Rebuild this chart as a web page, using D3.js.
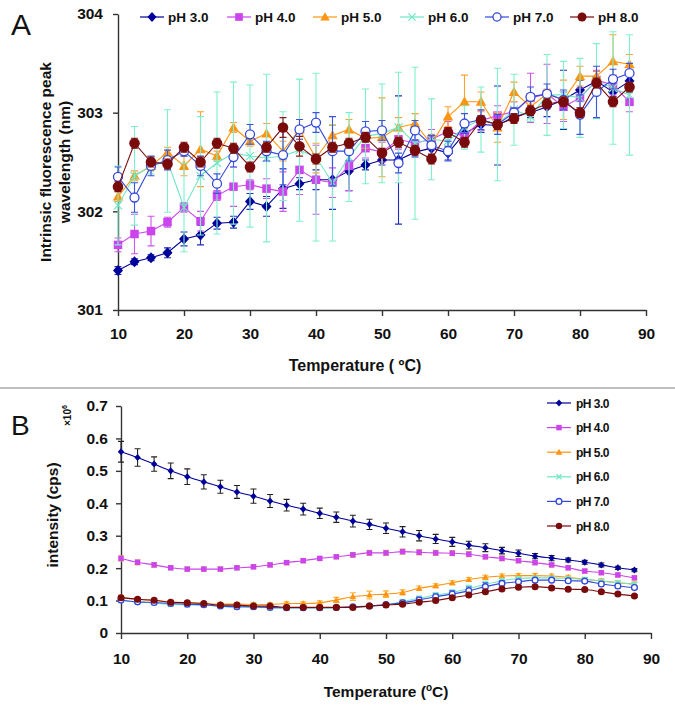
<!DOCTYPE html>
<html><head><meta charset="utf-8">
<script src="https://cdn.jsdelivr.net/npm/d3@7"></script>
<style>body{margin:0;background:#fff} svg{display:block} text{font-family:"Liberation Sans",Arial,Helvetica,sans-serif}</style>
</head><body><svg id="c" width="675" height="713"></svg>
<script>
// ---------- data ----------
const temps = [10,12.5,15,17.5,20,22.5,25,27.5,30,32.5,35,37.5,40,42.5,45,47.5,50,52.5,55,57.5,60,62.5,65,67.5,70,72.5,75,77.5,80,82.5,85,87.5];
const seriesNames = ["pH 3.0","pH 4.0","pH 5.0","pH 6.0","pH 7.0","pH 8.0"];
const xTicks = [10,20,30,40,50,60,70,80,90];
const peakTicks = [301,302,303,304];
const intTicks = [0,0.1,0.2,0.3,0.4,0.5,0.6,0.7];

// Panel A: intrinsic fluorescence peak wavelength (nm)
const peak3 = [301.40,301.49,301.53,301.58,301.72,301.76,301.88,301.89,302.10,302.05,302.23,302.28,302.32,302.32,302.41,302.47,302.52,302.52,302.60,302.64,302.59,302.79,302.88,302.87,302.96,303.00,303.06,303.13,303.23,303.32,303.21,303.32];
const peak4 = [301.66,301.77,301.80,301.89,302.04,301.90,302.16,302.25,302.27,302.23,302.20,302.42,302.32,302.29,302.46,302.64,302.60,302.73,302.69,302.73,302.81,302.76,302.92,302.97,303.01,303.15,303.19,303.06,303.15,303.33,303.28,303.11];
const peak5 = [302.15,302.36,302.46,302.60,302.46,302.63,302.56,302.85,302.71,302.79,302.61,302.83,302.54,302.77,302.83,302.74,302.75,302.85,302.89,302.68,302.96,303.11,303.11,302.85,303.21,303.06,303.19,303.13,303.37,303.37,303.52,303.49];
const peak6 = [302.06,302.36,302.46,302.51,302.04,302.36,302.49,302.59,302.56,302.54,302.56,302.62,302.55,302.29,302.55,302.76,302.79,302.85,302.69,302.73,302.71,302.85,302.93,302.88,303.03,302.96,303.18,303.18,303.15,303.32,303.25,303.18];
const peak7 = [302.35,302.14,302.46,302.52,302.61,302.46,302.28,302.55,302.78,302.61,302.57,302.83,302.90,302.61,302.61,302.81,302.82,302.49,302.82,302.67,302.61,302.89,302.93,302.88,303.00,303.16,303.19,303.13,302.98,303.21,303.34,303.40];
const peak8 = [302.25,302.69,302.50,302.48,302.65,302.50,302.69,302.64,302.45,302.65,302.85,302.66,302.53,302.65,302.69,302.75,302.59,302.70,302.62,302.53,302.80,302.70,302.92,302.88,302.94,303.02,303.09,303.11,303.00,303.30,303.11,303.26];
const peakErr3 = [0.04,0.03,0.03,0.05,0.07,0.1,0.06,0.06,0.08,0.1,0.2,0.06,0.1,0.3,0.2,0.05,0.05,0.65,0.05,0.07,0.07,0.06,0.08,0.4,0.05,0.05,0.1,0.3,0.1,0.1,0.05,0.08];
const peakErr4 = [0.07,0.2,0.15,0.05,0.05,0.1,0.05,0.2,0.05,0.1,0.2,0.25,0.35,0.15,0.25,0.1,0.1,0.1,0.1,0.1,0.1,0.1,0.1,0.1,0.1,0.25,0.3,0.15,0.1,0.1,0.1,0.1];
const peakErr5 = [0.05,0.05,0.05,0.05,0.1,0.38,0.05,0.05,0.05,0.1,0.1,0.1,0.15,0.1,0.1,0.1,0.4,0.1,0.1,0.1,0.1,0.27,0.1,0.15,0.1,0.05,0.05,0.2,0.1,0.05,0.27,0.1];
const peakErr6 = [0.4,0.5,0.08,0.52,0.45,0.6,0.72,0.72,0.72,0.85,0.45,0.72,0.85,0.59,0.45,0.48,0.5,0.56,0.77,0.41,0.1,0.22,0.33,0.57,0.36,0.05,0.41,0.34,0.4,0.38,0.57,0.61];
const peakErr7 = [0.1,0.15,0.1,0.1,0.05,0.1,0.1,0.1,0.1,0.1,0.3,0.1,0.1,0.35,0.1,0.1,0.1,0.1,0.1,0.1,0.1,0.1,0.1,0.1,0.05,0.1,0.1,0.1,0.2,0.26,0.1,0.1];
const peakErr8 = [0.05,0.05,0.05,0.05,0.05,0.05,0.05,0.05,0.05,0.05,0.1,0.1,0.05,0.05,0.05,0.05,0.05,0.05,0.05,0.05,0.05,0.05,0.05,0.05,0.05,0.05,0.05,0.05,0.05,0.05,0.05,0.05];

// Panel B: intensity (x10^6 cps)
const int3 = [0.559,0.541,0.521,0.500,0.482,0.466,0.451,0.435,0.422,0.407,0.394,0.382,0.369,0.357,0.345,0.335,0.323,0.312,0.300,0.290,0.281,0.271,0.263,0.254,0.246,0.237,0.231,0.225,0.218,0.210,0.201,0.194];
const int4 = [0.230,0.218,0.210,0.201,0.197,0.197,0.197,0.201,0.204,0.210,0.217,0.223,0.230,0.235,0.241,0.247,0.247,0.251,0.249,0.247,0.246,0.243,0.235,0.230,0.223,0.217,0.210,0.201,0.191,0.186,0.179,0.170];
const int5 = [0.110,0.104,0.100,0.096,0.094,0.091,0.089,0.089,0.088,0.088,0.091,0.091,0.093,0.102,0.112,0.117,0.120,0.125,0.138,0.146,0.155,0.165,0.172,0.176,0.177,0.177,0.176,0.172,0.165,0.161,0.155,0.151];
const int6 = [0.100,0.095,0.093,0.088,0.087,0.086,0.082,0.080,0.079,0.078,0.077,0.077,0.077,0.078,0.080,0.082,0.087,0.097,0.107,0.117,0.125,0.137,0.150,0.161,0.168,0.170,0.170,0.168,0.166,0.160,0.155,0.150];
const int7 = [0.102,0.096,0.094,0.091,0.089,0.087,0.083,0.081,0.081,0.079,0.078,0.078,0.078,0.079,0.081,0.083,0.088,0.093,0.102,0.112,0.120,0.130,0.143,0.153,0.158,0.163,0.163,0.161,0.160,0.151,0.145,0.140];
const int8 = [0.109,0.104,0.101,0.095,0.093,0.091,0.086,0.086,0.083,0.083,0.079,0.079,0.079,0.079,0.079,0.083,0.086,0.089,0.095,0.100,0.109,0.117,0.127,0.136,0.141,0.143,0.139,0.135,0.134,0.127,0.120,0.114];
const intErr3 = [0.032,0.027,0.022,0.024,0.024,0.022,0.02,0.02,0.022,0.02,0.018,0.018,0.016,0.016,0.018,0.016,0.016,0.016,0.016,0.014,0.014,0.012,0.012,0.01,0.01,0.008,0.008,0.006,0.006,0.006,0.005,0.005];
const intErr4 = [0.008,0.008,0.007,0.006,0.006,0.006,0.006,0.006,0.006,0.006,0.006,0.006,0.006,0.006,0.007,0.008,0.008,0.008,0.008,0.008,0.008,0.008,0.007,0.007,0.006,0.006,0.006,0.006,0.006,0.006,0.006,0.006];
const intErr5 = [0.006,0.005,0.005,0.005,0.005,0.005,0.005,0.005,0.005,0.005,0.005,0.005,0.006,0.008,0.012,0.012,0.01,0.008,0.007,0.006,0.006,0.006,0.006,0.006,0.006,0.006,0.006,0.006,0.006,0.006,0.006,0.006];
const intErr6 = [0.004,0.004,0.004,0.004,0.004,0.004,0.004,0.004,0.004,0.004,0.004,0.004,0.004,0.004,0.004,0.005,0.006,0.006,0.007,0.008,0.008,0.01,0.01,0.008,0.006,0.005,0.005,0.005,0.005,0.005,0.005,0.005];
const intErr7 = [0.004,0.004,0.004,0.004,0.004,0.004,0.004,0.004,0.004,0.004,0.004,0.004,0.004,0.004,0.004,0.005,0.006,0.006,0.008,0.008,0.01,0.012,0.012,0.008,0.006,0.005,0.005,0.005,0.005,0.005,0.005,0.005];
const intErr8 = [0.004,0.004,0.004,0.004,0.004,0.004,0.004,0.004,0.004,0.004,0.004,0.004,0.004,0.004,0.004,0.004,0.004,0.004,0.004,0.004,0.004,0.004,0.004,0.004,0.004,0.004,0.004,0.004,0.004,0.004,0.004,0.004];

// ---------- styles ----------
const colors = ["#00009a","#cc44ee","#ff9410","#6fe6c4","#3348dc","#7a0b0b"];
const errColors = ["#1d2dc0","#cc55ee","#ffa030","#7ff0cc","#3e55e0","#8a1a1a"];
const intErrColors = ["#222222","#e0c040","#ffb030","#7ff0cc","#3e55e0","#8a1a1a"];
const markerTypes = ["diamond","square","triangle","x","circleOpen","circle"];
const peakSeries = [peak3,peak4,peak5,peak6,peak7,peak8];
const peakErrs = [peakErr3,peakErr4,peakErr5,peakErr6,peakErr7,peakErr8];
const intSeries = [int3,int4,int5,int6,int7,int8];
const intErrs = [intErr3,intErr4,intErr5,intErr6,intErr7,intErr8];

const svg = d3.select("#c");
const FONT = '"Liberation Sans",Arial,Helvetica,sans-serif';

function marker(g, type, x, y, s, color) {
  if (type === "diamond") {
    g.append("path").attr("d", `M${x},${y-s*1.1}L${x+s},${y}L${x},${y+s*1.1}L${x-s},${y}Z`).attr("fill", color);
  } else if (type === "square") {
    g.append("rect").attr("x", x-s*0.85).attr("y", y-s*0.85).attr("width", s*1.7).attr("height", s*1.7).attr("fill", color);
  } else if (type === "triangle") {
    g.append("path").attr("d", `M${x},${y-s*1.05}L${x+s*1.05},${y+s*0.8}L${x-s*1.05},${y+s*0.8}Z`).attr("fill", color);
  } else if (type === "x") {
    const h = s*0.8;
    g.append("path").attr("d", `M${x-h},${y-h}L${x+h},${y+h}M${x-h},${y+h}L${x+h},${y-h}`).attr("stroke", color).attr("stroke-width", 1.2).attr("fill","none");
  } else if (type === "circleOpen") {
    g.append("circle").attr("cx", x).attr("cy", y).attr("r", s*0.9).attr("fill", "#fff").attr("stroke", color).attr("stroke-width", 1.3);
  } else {
    g.append("circle").attr("cx", x).attr("cy", y).attr("r", s).attr("fill", color);
  }
}

function styleAxis(g, fs) {
  g.selectAll("path.domain").attr("stroke", "#333").attr("stroke-width", 1.4);
  g.selectAll(".tick line").attr("stroke", "#333").attr("stroke-width", 1.4);
  g.selectAll(".tick text").attr("font-family", FONT).attr("font-weight", "bold").attr("font-size", fs).attr("fill", "#111");
}

// ---------- Panel A ----------
const xA = d3.scaleLinear().domain([10, 90]).range([118, 646]);
const yA = d3.scaleLinear().domain([301, 304]).range([310, 14]);

const gA = svg.append("g");
const axAx = gA.append("g").attr("transform", "translate(0,310)")
  .call(d3.axisBottom(xA).tickValues(xTicks).tickSize(6).tickSizeOuter(0).tickPadding(12).tickFormat(d3.format("d")));
styleAxis(axAx, 15.5);
const axAy = gA.append("g").attr("transform", "translate(118,0)")
  .call(d3.axisLeft(yA).tickValues(peakTicks).tickSize(5).tickSizeOuter(0).tickPadding(10).tickFormat(d3.format("d")));
styleAxis(axAy, 15.5);

const lineA = d3.line().x((d, i) => xA(temps[i])).y(d => yA(d));
seriesNames.forEach((name, k) => {
  const g = gA.append("g");
  const vals = peakSeries[k], errs = peakErrs[k];
  vals.forEach((v, i) => {
    const x = xA(temps[i]), y1 = yA(v + errs[i]), y2 = yA(v - errs[i]);
    g.append("path").attr("d", `M${x},${y1}L${x},${y2}M${x-3.5},${y1}L${x+3.5},${y1}M${x-3.5},${y2}L${x+3.5},${y2}`)
      .attr("stroke", errColors[k]).attr("stroke-width", 1.1).attr("fill", "none");
  });
  g.append("path").datum(vals).attr("d", lineA).attr("fill", "none").attr("stroke", colors[k]).attr("stroke-width", 1.1);
  vals.forEach((v, i) => marker(g, markerTypes[k], xA(temps[i]), yA(v), markerTypes[k]==="x" ? 5 : (markerTypes[k]==="circle" ? 5.3 : 5), colors[k]));
});

// Legend A
const legA = [140, 227, 313, 400, 485, 570];
seriesNames.forEach((name, k) => {
  const g = svg.append("g");
  const x0 = legA[k], y0 = 17;
  g.append("line").attr("x1", x0).attr("x2", x0+24).attr("y1", y0).attr("y2", y0).attr("stroke", colors[k]).attr("stroke-width", 1.2);
  marker(g, markerTypes[k], x0+12, y0, 4.5, colors[k]);
  g.append("text").attr("x", x0+28).attr("y", y0+5).attr("font-family", FONT).attr("font-weight", "bold").attr("font-size", 13.5).attr("fill", "#111").text(name);
});

// Titles A
svg.append("text").attr("x", 11).attr("y", 35).attr("font-family", FONT).attr("font-size", 30).attr("fill", "#111").text("A");
const ytA = svg.append("text").attr("transform", "translate(54,162) rotate(-90)").attr("text-anchor", "middle")
  .attr("font-family", FONT).attr("font-weight", "bold").attr("font-size", 15.5).attr("fill", "#111");
ytA.append("tspan").attr("x", 0).attr("dy", -3).text("Intrinsic fluorescence peak");
ytA.append("tspan").attr("x", 0).attr("dy", 19).text("wavelength (nm)");
svg.append("text").attr("x", 355).attr("y", 371).attr("text-anchor", "middle").attr("font-family", FONT).attr("font-weight", "bold").attr("font-size", 16).attr("fill", "#111").text("Temperature ( ºC)");

// divider
svg.append("line").attr("x1", 0).attr("x2", 675).attr("y1", 388).attr("y2", 388).attr("stroke", "#a8a8a8").attr("stroke-width", 1.6);

// ---------- Panel B ----------
const xB = d3.scaleLinear().domain([10, 90]).range([121, 651]);
const yB = d3.scaleLinear().domain([0, 0.7]).range([633, 406]);
const gB = svg.append("g");
const axBx = gB.append("g").attr("transform", "translate(0,633)")
  .call(d3.axisBottom(xB).tickValues(xTicks).tickSize(6).tickSizeOuter(0).tickPadding(14).tickFormat(d3.format("d")));
styleAxis(axBx, 15.5);
const axBy = gB.append("g").attr("transform", "translate(121,0)")
  .call(d3.axisLeft(yB).tickValues(intTicks).tickSize(5).tickSizeOuter(0).tickPadding(8).tickFormat(d => d === 0 ? "0" : d3.format(".1f")(d)));
styleAxis(axBy, 15.5);

const lineB = d3.line().x((d, i) => xB(temps[i])).y(d => yB(d)).curve(d3.curveMonotoneX);
seriesNames.forEach((name, k) => {
  const g = gB.append("g");
  const vals = intSeries[k], errs = intErrs[k];
  vals.forEach((v, i) => {
    const x = xB(temps[i]), y1 = yB(v + errs[i]), y2 = yB(v - errs[i]);
    g.append("path").attr("d", `M${x},${y1}L${x},${y2}M${x-3},${y1}L${x+3},${y1}M${x-3},${y2}L${x+3},${y2}`)
      .attr("stroke", intErrColors[k]).attr("stroke-width", 1.1).attr("fill", "none");
  });
  g.append("path").datum(vals).attr("d", lineB).attr("fill", "none").attr("stroke", colors[k]).attr("stroke-width", 1.1);
  vals.forEach((v, i) => marker(g, markerTypes[k], xB(temps[i]), yB(v), markerTypes[k]==="circle" ? 3.5 : 3.2, colors[k]));
});

// Legend B
seriesNames.forEach((name, k) => {
  const g = svg.append("g");
  const y0 = 403 + k*24.6;
  g.append("line").attr("x1", 547).attr("x2", 571).attr("y1", y0).attr("y2", y0).attr("stroke", colors[k]).attr("stroke-width", 1.2);
  marker(g, markerTypes[k], 559, y0, 3.2, colors[k]);
  g.append("text").attr("x", 576).attr("y", y0+4.5).attr("font-family", FONT).attr("font-weight", "bold").attr("font-size", 12).attr("letter-spacing", -0.5).attr("fill", "#111").text(name);
});

// Titles B
svg.append("text").attr("x", 11).attr("y", 435).attr("font-family", FONT).attr("font-size", 28).attr("fill", "#111").text("B");
const ex = svg.append("text").attr("transform", "translate(71,426) rotate(-90)").attr("font-family", FONT).attr("font-weight", "bold").attr("font-size", 10).attr("fill", "#111");
ex.append("tspan").text("×10");
ex.append("tspan").attr("dy", -4).attr("font-size", 7).text("6");
svg.append("text").attr("transform", "translate(58,515) rotate(-90)").attr("text-anchor", "middle").attr("font-family", FONT).attr("font-weight", "bold").attr("font-size", 15.5).attr("fill", "#111").text("intensity (cps)");
const xtB = svg.append("text").attr("x", 386).attr("y", 697).attr("text-anchor", "middle").attr("font-family", FONT).attr("font-weight", "bold").attr("font-size", 15.5).attr("fill", "#111");
xtB.append("tspan").text("Temperature (");
xtB.append("tspan").attr("dy", -6).attr("font-size", 10).text("o");
xtB.append("tspan").attr("dy", 6).text("C)");
</script></body></html>
